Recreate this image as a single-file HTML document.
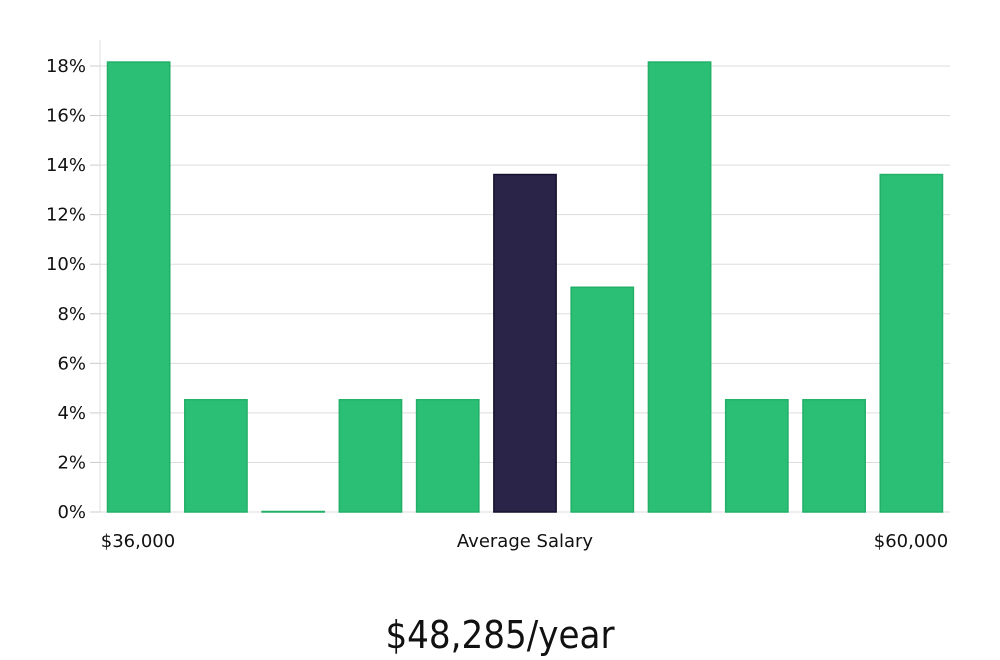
<!DOCTYPE html>
<html><head><meta charset="utf-8"><style>
html,body{margin:0;padding:0;background:#fff;width:1000px;height:660px;overflow:hidden}
svg text{font-family:"DejaVu Sans","Liberation Sans",sans-serif;fill:#111}
</style></head><body>
<svg id="chart" width="1000" height="660" xmlns="http://www.w3.org/2000/svg">
<g id="grid"></g>
<g id="yaxis"></g>
<g id="bars"></g>
<text x="138" y="547" font-size="18" text-anchor="middle">$36,000</text>
<text x="525" y="547" font-size="18" text-anchor="middle">Average Salary</text>
<text x="911" y="547" font-size="18" text-anchor="middle">$60,000</text>
<text x="500" y="648" font-size="38" text-anchor="middle" style="font-family:'Liberation Sans Narrow','DejaVu Sans Condensed','Liberation Sans',sans-serif">$48,285/year</text>
</svg>
<script>
const values = [18.18, 4.55, 0, 4.55, 4.55, 13.64, 9.09, 18.18, 4.55, 4.55, 13.64];
const highlight = [false, false, false, false, false, true, false, false, false, false, false];
const yTicks = [0, 2, 4, 6, 8, 10, 12, 14, 16, 18];
const yTickLabels = ["0%","2%","4%","6%","8%","10%","12%","14%","16%","18%"];
const NS = "http://www.w3.org/2000/svg";
const x0 = 100, x1 = 950, yBase = 512, yTop = 66;
const y = v => yBase - (v / 18) * (yBase - yTop);
const band = (x1 - x0) / values.length;
const xb = i => x0 + i * band + 7;
const bw = band - 14;
function mk(tag, attrs, parent){const e=document.createElementNS(NS,tag);for(const k in attrs)e.setAttribute(k,attrs[k]);parent.appendChild(e);return e;}
const grid = document.getElementById('grid'), yaxis = document.getElementById('yaxis'), bars = document.getElementById('bars');
const ax = mk('line',{x1:x0,x2:x0,y1:40,y2:yBase,stroke:'#ddd','stroke-width':1},yaxis);


yTicks.forEach((t,i)=>{
  const g = mk('line',{x1:x0,x2:x1,y1:y(t),y2:y(t),stroke:'#ddd','stroke-width':1},grid);
  
  
  const tk = mk('line',{x1:x0-10,x2:x0,y1:y(t),y2:y(t),stroke:'#ccc','stroke-width':1},yaxis);
  
  
  const tx = mk('text',{x:x0-14,y:y(t)+6,'font-size':18,'text-anchor':'end'},yaxis);
  tx.textContent = yTickLabels[i];
  
  
});
values.forEach((v,i)=>{
  const h = Math.max(yBase - y(v), 1);
  const fill = highlight[i] ? '#2a2448' : '#2bbf76';
  const stroke = highlight[i] ? '#15112e' : '#22b068';
  const r = mk('rect',{x:xb(i)+0.5,y:yBase-h+0.5,width:bw-1,height:h-0.5,fill:fill,stroke:stroke,'stroke-width':1.5},bars);
  
  
});
</script>
</body></html>
